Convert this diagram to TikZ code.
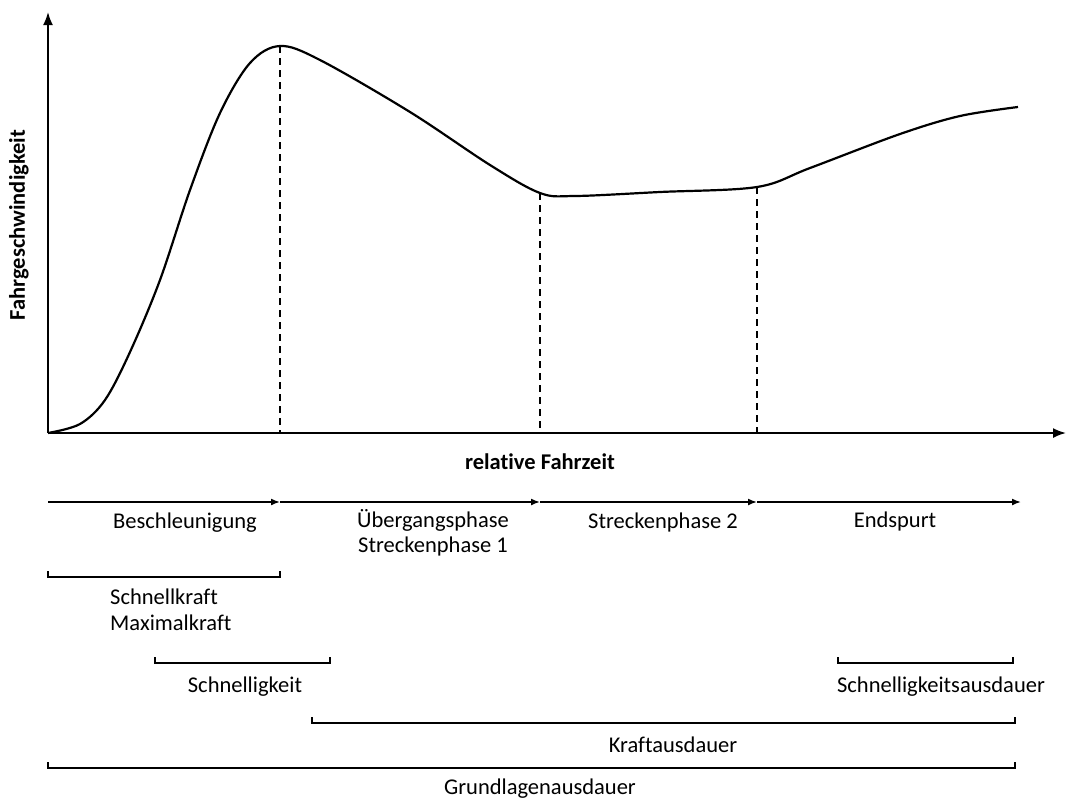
\documentclass[tikz,border=0pt]{standalone}
\usepackage{fontspec}
\setmainfont{Carlito}[Ligatures=NoCommon]
\usetikzlibrary{arrows.meta, positioning, calc}

\begin{document}
\begin{tikzpicture}[x=1pt, y=-1pt,
    lbl/.style={font=\fontsize{22.5}{25.5}\selectfont, inner sep=0pt, align=center},
    phase/.style={-{Latex[length=9pt, width=7pt]}, line width=1.6pt},
    bracket/.style={line width=1.3pt},
    guide/.style={dashed, line width=1.3pt, dash pattern=on 7pt off 5pt}]
    \useasboundingbox (0,0) rectangle (1068,804);
    % Axes
    \coordinate (O) at (48,433);
    \coordinate (ytop) at (48,12);
    \coordinate (xend) at (1066,433);
    \draw[-{Latex[length=13pt, width=10pt]}, line width=1.8pt] (O) -- (ytop);
    \draw[-{Latex[length=13pt, width=10pt]}, line width=1.8pt] (O) -- (xend);
    \node[lbl, font=\fontsize{22.5}{25.5}\selectfont\bfseries, rotate=90] (ylab) at (19,225) {Fahrgeschwindigkeit};
    \node[lbl, font=\fontsize{22.5}{25.5}\selectfont\bfseries] (xlab) at (540,462) {relative Fahrzeit};
    % Speed curve
    \coordinate (peak) at (280,46);
    \coordinate (low) at (540,193);
    \coordinate (bend) at (757,187);
    \draw[line width=2.2pt] plot[smooth, tension=0.55] coordinates {
        (48,433) (80,424) (105,400) (130,352) (160,280) (190,190) (220,113)
        (250,63) (peak) (320,60) (410,112) (490,165) (low) (575,196)
        (660,192) (bend) (810,168) (900,134) (960,116) (1018,107)};
    % Phase borders
    \draw[guide] (peak) -- (peak |- O);
    \draw[guide] (low) -- (low |- O);
    \draw[guide] (bend) -- (bend |- O);
    % Phases
    \coordinate (t0) at (48,502);
    \coordinate (t1) at (280,502);
    \coordinate (t2) at (540,502);
    \coordinate (t3) at (757,502);
    \coordinate (t4) at (1021,502);
    \draw[phase] (t0) -- (t1);
    \draw[phase] (t1) -- (t2);
    \draw[phase] (t2) -- (t3);
    \draw[phase] (t3) -- (t4);
    \node[lbl, anchor=north] (p1) at (185,513) {Beschleunigung};
    \node[lbl, anchor=north] (p2) at (433,509) {Übergangsphase\\Streckenphase 1};
    \node[lbl, anchor=north] (p3) at (663,513) {Streckenphase 2};
    \node[lbl, anchor=north] (p4) at (895,512) {Endspurt};
    % Abilities
    \draw[bracket] (48,571) -- (48,577) -- (280,577) -- (280,571);
    \node[lbl, anchor=north west, align=left] (a1) at (110,589) {Schnellkraft\\Maximalkraft};
    \draw[bracket] (155,657) -- (155,663) -- (330,663) -- (330,657);
    \node[lbl, anchor=north] (a2) at (245,677) {Schnelligkeit};
    \draw[bracket] (838,657) -- (838,663) -- (1013,663) -- (1013,657);
    \node[lbl, anchor=north] (a3) at (941,677) {Schnelligkeitsausdauer};
    \draw[bracket] (312,717) -- (312,723) -- (1015,723) -- (1015,717);
    \node[lbl, anchor=north] (a4) at (673,737) {Kraftausdauer};
    \draw[bracket] (48,762) -- (48,768) -- (1015,768) -- (1015,762);
    \node[lbl, anchor=north] (a5) at (540,779) {Grundlagenausdauer};
\end{tikzpicture}
\end{document}
